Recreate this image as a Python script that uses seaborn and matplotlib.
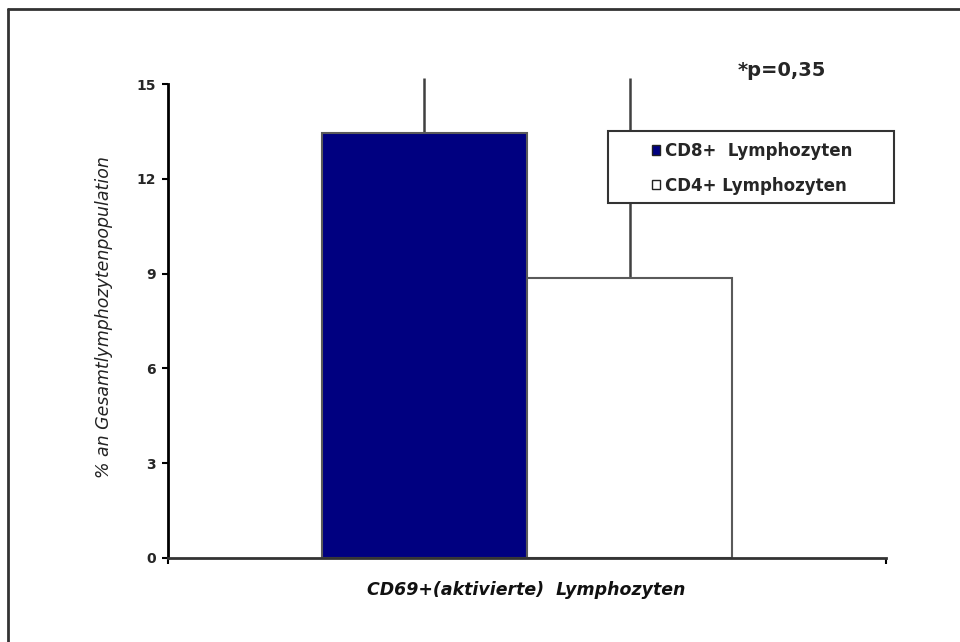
import matplotlib
matplotlib.use("Agg")
import matplotlib.pyplot as plt
import seaborn as sns
import pandas as pd
from matplotlib.lines import Line2D
from matplotlib.patches import Patch, Rectangle

categories = ["CD69+(aktivierte) Lymphozyten"]
groups = ["CD8+  Lymphozyten", "CD4+ Lymphozyten"]
values = [13.45, 8.85]
errors_up = [1.75, 6.35]
yticks = [0, 3, 6, 9, 12, 15]

df = pd.DataFrame({"cat": categories * 2, "group": groups, "value": values})

sns.set_theme(style="white")
plt.rcParams["font.family"] = ["DejaVu Sans"]

fig = plt.figure(figsize=(9.6, 6.42), dpi=100)
ax = fig.add_axes([0.175, 0.131, 0.748, 0.738])

palette = {groups[0]: "#000080", groups[1]: "#ffffff"}
sns.barplot(data=df, x="cat", y="value", hue="group", palette=palette,
            width=0.8, edgecolor="#5a5a5a", linewidth=1.5, ax=ax, saturation=1,
            legend=False, errorbar=None, zorder=2)

# upward-only error bars, positioned from the drawn bars
for p, v, e in zip(ax.patches, values, errors_up):
    cx = p.get_x() + p.get_width() / 2
    ax.errorbar([cx], [v], yerr=[[0], [e]], fmt="none", ecolor="#404040",
                elinewidth=1.8, capsize=0, clip_on=False, zorder=1)

ax.set_ylim(0, 15)
ax.set_xlim(-0.70, 0.70)
ax.set_yticks(yticks)
ax.set_yticklabels([str(t) for t in yticks], fontsize=10, fontweight="bold")
ax.set_xticks([-0.70, 0.70])
ax.set_xticklabels(["", ""])
ax.tick_params(axis="y", which="both", left=True, length=4.5, width=1.5,
               direction="out", color="black", pad=4)
ax.tick_params(axis="x", which="both", bottom=True, length=4.5, width=1.5,
               direction="out", color="black")

for s in ["top", "right"]:
    ax.spines[s].set_visible(False)
ax.spines["left"].set_color("black")
ax.spines["left"].set_linewidth(2)
ax.spines["bottom"].set_color("#333333")
ax.spines["bottom"].set_linewidth(2)

ax.set_xlabel("CD69+(aktivierte)  Lymphozyten", fontsize=12.5, fontstyle="oblique",
              fontweight="bold", color="#111111")
ax.xaxis.set_label_coords(0.4986, -0.0675)
ax.set_ylabel("% an Gesamtlymphozytenpopulation", fontsize=12.5, fontstyle="oblique",
              color="#222222")
ax.yaxis.set_label_coords(-0.089, 0.508)
ax.yaxis.label.set_verticalalignment("center")
ax.xaxis.label.set_verticalalignment("center")

ax.text(0.855, 1.0295, "*p=0,35", transform=ax.transAxes, fontsize=14,
        fontweight="bold", ha="center", va="center")

# legend box
box = Rectangle((0.613, 0.749), 0.398, 0.152, transform=ax.transAxes,
                facecolor="white", edgecolor="#333333", linewidth=1.5,
                clip_on=False, zorder=4)
ax.add_patch(box)
handles = [Patch(facecolor=palette[g], edgecolor="#222222", linewidth=1) for g in groups]
leg = ax.legend(handles, groups, loc="upper left", bbox_to_anchor=(0.674, 0.878),
                frameon=False, handlelength=0.5, handleheight=0.5, handletextpad=0.3,
                borderpad=0, labelspacing=1.0, borderaxespad=0,
                prop={"weight": "bold", "size": 12})
leg.set_zorder(5)

# outer frame (top and left visible in the reference crop)
fig.add_artist(Line2D([8 / 960, 1.0], [1 - 9 / 642, 1 - 9 / 642], transform=fig.transFigure,
                      color="#333333", linewidth=2))
fig.add_artist(Line2D([8 / 960, 8 / 960], [0, 1 - 9 / 642], transform=fig.transFigure,
                      color="#333333", linewidth=2))

fig.savefig("out.png", dpi=100)
